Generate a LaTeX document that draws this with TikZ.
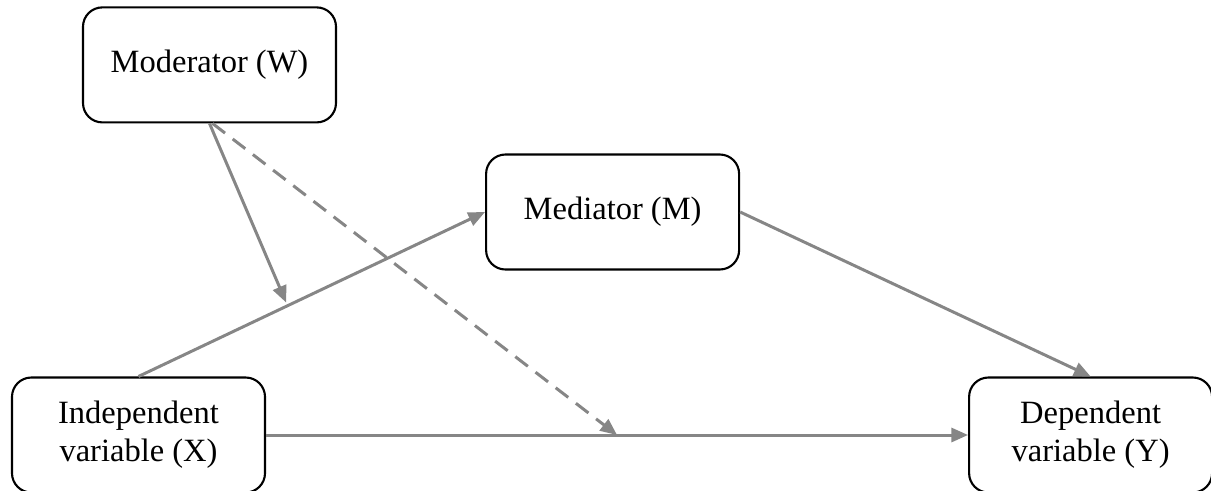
\documentclass[tikz,border=0pt]{standalone}
\usepackage{fontspec}
\setmainfont{Liberation Serif}
\usetikzlibrary{arrows.meta,positioning,calc}
\definecolor{lgray}{HTML}{868686}

\begin{document}
\begin{tikzpicture}[
    >={Triangle[length=9.5pt,width=8pt]},
    var/.style={rectangle, draw=black, line width=1.2pt, rounded corners=11pt, minimum width=5.06cm, minimum height=2.3cm, align=center, font=\fontsize{18.5}{21.5}\selectfont, fill=white},
    effect/.style={->, draw=lgray, line width=1.7pt},
]
\useasboundingbox (-2.77,8.7) rectangle (21.45,-1.1);
\clip (-2.77,8.7) rectangle (21.45,-1.1);

% Variables
\node[var] (X) {Independent\\variable (X)};
\node[var, above=5.06cm of X, xshift=1.42cm] (W) {Moderator (W)};
\node[var, below right=0.6cm and 2.96cm of W] (M) {Mediator (M)};
\node[var, right=14.04cm of X, minimum width=4.86cm] (Y) {Dependent\\variable (Y)};

% Paths
\draw[effect] (X.north) -- (M.west);
\draw[effect] (M.east) -- (Y.north);
\draw[effect] (X) -- (Y);

% Moderation
\coordinate (onXM) at ($(X.north)!0.43!(M.west)$);
\coordinate (onXY) at ($(X.east)!0.5!(Y.west)$);
\draw[effect, shorten >=2pt] (W.south) -- (onXM);
\draw[effect, dash pattern=on 9pt off 5.5pt] ($(W.south)+(0.06,0)$) -- (onXY);

\end{tikzpicture}
\end{document}
